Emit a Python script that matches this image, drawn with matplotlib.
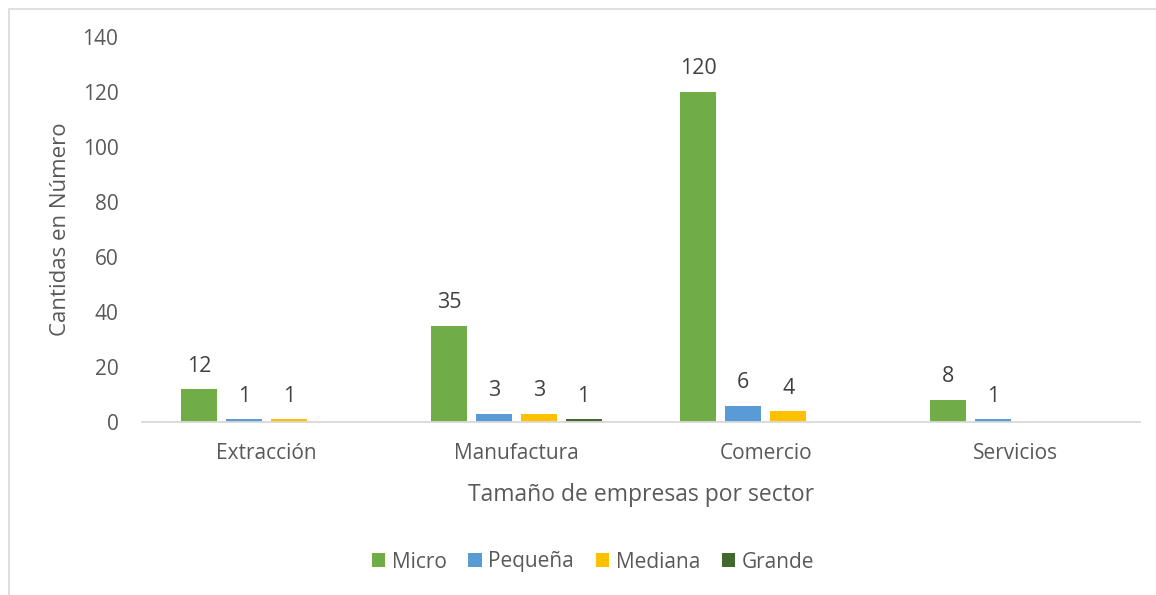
import matplotlib
matplotlib.use("Agg")
import matplotlib.pyplot as plt
from matplotlib.patches import Rectangle
import numpy as np

categories = ["Extracción", "Manufactura", "Comercio", "Servicios"]
series_names = ["Micro", "Pequeña", "Mediana", "Grande"]
micro = [12, 35, 120, 8]
pequena = [1, 3, 6, 1]
mediana = [1, 3, 4, 0]
grande = [0, 1, 0, 0]
colors = ["#70AD47", "#5B9BD5", "#FFC000", "#43682B"]
yticks = [0, 20, 40, 60, 80, 100, 120, 140]

plt.rcParams['font.family'] = ['Open Sans', 'DejaVu Sans']
txt = "#595959"

fig = plt.figure(figsize=(11.56, 5.95), dpi=100)
ax = fig.add_axes([142/1156, 1-422/595, (1140-142)/1156, (422-37)/595])

# outer chart border
fig.patches.append(Rectangle((9/1156, -0.01), 1.0, 1-9/595+0.01, transform=fig.transFigure,
                             fill=False, edgecolor="#D9D9D9", linewidth=1.2))

x = np.arange(len(categories))
step = 0.18
width = 0.144
all_series = [micro, pequena, mediana, grande]
for i, (vals, name, c) in enumerate(zip(all_series, series_names, colors)):
    pos = x + (i - 1.5) * step
    ax.bar(pos, vals, width=width, color=c, label=name, zorder=2)
    for p, v in zip(pos, vals):
        if v > 0:
            ax.annotate(str(v), (p, v), xytext=(0, 9), textcoords="offset points",
                        ha="center", va="bottom", fontsize=15.5, color="#404040")

ax.set_xlim(-0.5, len(categories) - 0.5)
ax.set_ylim(0, 140)
ax.set_yticks(yticks)
ax.set_xticks(x)
ax.set_xticklabels(categories)
ax.tick_params(axis="both", length=0, labelsize=15, colors=txt)
ax.tick_params(axis="y", pad=17)
ax.tick_params(axis="x", pad=15)
for s in ["top", "right", "left"]:
    ax.spines[s].set_visible(False)
ax.spines["bottom"].set_color("#D9D9D9")
ax.spines["bottom"].set_linewidth(1.3)

ax.set_ylabel("Cantidas en Número", fontsize=16, color=txt, labelpad=8)
ax.set_xlabel("Tamaño de empresas por sector", fontsize=16.5, color=txt, labelpad=14)

leg = fig.legend(loc="center", bbox_to_anchor=(593/1156, 1-562/595), ncol=4, frameon=False,
                 fontsize=15, handlelength=0.65, handleheight=0.65, handletextpad=0.3,
                 columnspacing=1.05, labelcolor=txt)

fig.savefig("out.png", dpi=100)
